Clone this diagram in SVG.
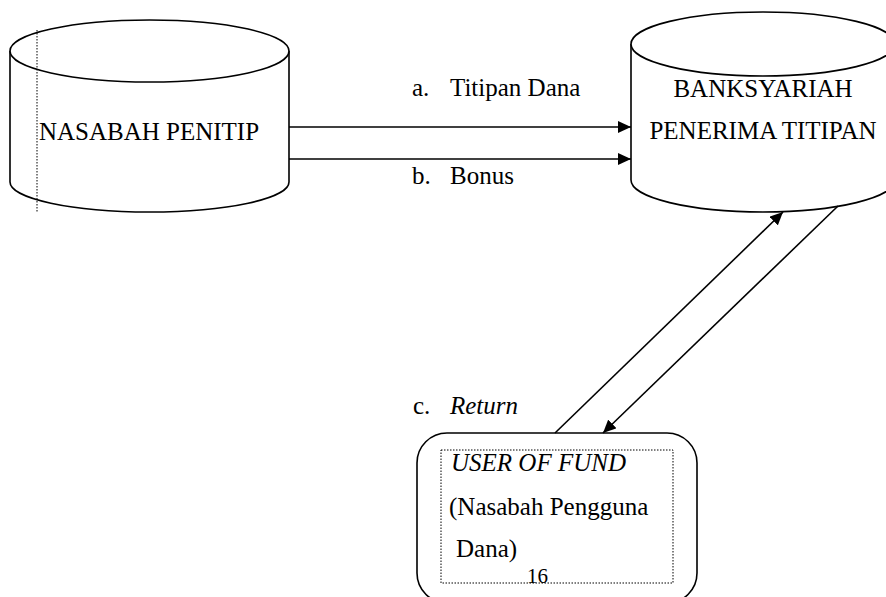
<svg xmlns="http://www.w3.org/2000/svg" width="886" height="597" viewBox="0 0 886 597">
<style>
.shape{fill:#fff;stroke:#000;stroke-width:1.6}
.t{font-family:"Liberation Serif","Times New Roman",serif;font-size:25px;fill:#000}
.i{font-style:italic}
.c{stroke:#000;stroke-width:1.6;fill:none}
.dot{fill:none;stroke:#000;stroke-width:1;stroke-dasharray:1.5 1.5}
</style>
<defs>
<marker id="arr" markerUnits="userSpaceOnUse" markerWidth="14" markerHeight="12" refX="13" refY="6" orient="auto">
<path d="M0,0 L13,6 L0,12 Z" fill="#000"/>
</marker>
</defs>
<rect width="886" height="597" fill="#fff"/>
<g id="nasabah-penitip">
<path class="shape" d="M10,51 L10,182 A139.5,30 0 0 0 289,182 L289,51"/>
<ellipse class="shape" cx="149.5" cy="51" rx="139.5" ry="31"/>
<line class="dot" x1="37" y1="30" x2="37" y2="212"/>
<text class="t" x="149" y="140" text-anchor="middle">NASABAH PENITIP</text>
</g>
<g id="bank-syariah">
<path class="shape" d="M631,44 L631,180 A132,32 0 0 0 895,180 L895,44"/>
<ellipse class="shape" cx="763" cy="44" rx="132" ry="32"/>
<text class="t" x="763" y="97" text-anchor="middle">BANKSYARIAH</text>
<text class="t" x="763" y="139" text-anchor="middle">PENERIMA TITIPAN</text>
</g>
<g id="user-of-fund">
<rect class="shape" x="417" y="433" width="280" height="170" rx="30" ry="30"/>
<rect class="dot" x="441" y="450" width="232" height="133"/>
<text class="t i" x="451" y="471">USER OF FUND</text>
<text class="t" x="449" y="515">(Nasabah Pengguna</text>
<text class="t" x="456" y="557">Dana)</text>
<text class="t" x="527" y="583" style="font-size:21px">16</text>
</g>
<g id="connectors">
<line class="c" x1="289" y1="127" x2="631" y2="127" marker-end="url(#arr)"/>
<line class="c" x1="289" y1="159" x2="631" y2="159" marker-end="url(#arr)"/>
<line class="c" x1="555" y1="433" x2="783" y2="212" marker-end="url(#arr)"/>
<line class="c" x1="838" y1="206" x2="603" y2="433" marker-end="url(#arr)"/>
</g>
<g id="labels">
<text class="t" x="412" y="96">a.</text>
<text class="t" x="450" y="96">Titipan Dana</text>
<text class="t" x="412" y="184">b.</text>
<text class="t" x="450" y="184">Bonus</text>
<text class="t" x="413" y="414">c.</text>
<text class="t i" x="450" y="414">Return</text>
</g>
</svg>
